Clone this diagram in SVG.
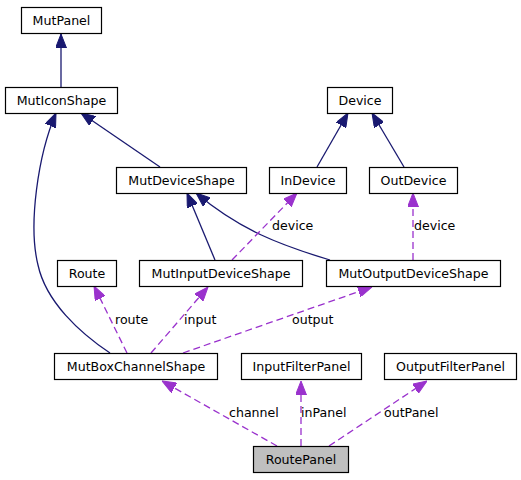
<svg xmlns="http://www.w3.org/2000/svg" width="521" height="480" viewBox="0 0 521 480">
<defs>
<marker id="inh" viewBox="0 0 14 11" refX="14" refY="5.5" markerWidth="14" markerHeight="11" markerUnits="userSpaceOnUse" orient="auto">
<path d="M0,0 L14,5.5 L0,11 z" fill="#191970" stroke="#191970" stroke-width="1"/>
</marker>
<marker id="use" viewBox="0 0 14 11" refX="14" refY="5.5" markerWidth="14" markerHeight="11" markerUnits="userSpaceOnUse" orient="auto">
<path d="M0,0 L14,5.5 L0,11 z" fill="#9a32cd" stroke="#9a32cd" stroke-width="1"/>
</marker>
</defs>
<style>
.box{fill:#fff;stroke:#000;stroke-width:1.2}
.cur{fill:#bfbfbf}
.t{font-family:"DejaVu Sans",Verdana,sans-serif;font-size:12.6px;fill:#000;text-anchor:middle}
.l{font-family:"DejaVu Sans",Verdana,sans-serif;font-size:12.6px;fill:#000}
.inh{fill:none;stroke:#191970;stroke-width:1.3;marker-end:url(#inh)}
.use{fill:none;stroke:#9a32cd;stroke-width:1.3;stroke-dasharray:7,4;marker-end:url(#use)}
</style>
<rect width="521" height="480" fill="#fff"/>
<g id="edges">
<path class="inh" d="M61,87 L61,34"/>
<path class="inh" d="M160,167 L81,113"/>
<path class="inh" d="M110,353 C80,333 46,302 38,265 C28,225 38,155 56,113"/>
<path class="inh" d="M317,167 L348,113"/>
<path class="inh" d="M404,167 L372,113"/>
<path class="inh" d="M215,260 L187,193"/>
<path class="inh" d="M330,260 C280,245 240,230 196,193"/>
<path class="use" d="M232,260 L297,193"/>
<path class="use" d="M413,260 L413,193"/>
<path class="use" d="M127,353 L94,286"/>
<path class="use" d="M151,353 L208,287"/>
<path class="use" d="M183,353 L372,287"/>
<path class="use" d="M277,446 L162,381"/>
<path class="use" d="M301,446 L301,381"/>
<path class="use" d="M329,446 L427,381"/>
<text class="l" x="272" y="230">device</text>
<text class="l" x="414" y="230">device</text>
<text class="l" x="115" y="324">route</text>
<text class="l" x="184" y="324">input</text>
<text class="l" x="292" y="324">output</text>
<text class="l" x="229" y="417">channel</text>
<text class="l" x="301" y="417">inPanel</text>
<text class="l" x="384" y="417">outPanel</text>
</g>
<g id="MutPanel"><rect class="box" x="21.5" y="7.5" width="80" height="26"/><text class="t" x="61.5" y="25">MutPanel</text></g>
<g id="MutIconShape"><rect class="box" x="5.5" y="87.5" width="112" height="26"/><text class="t" x="61.5" y="105">MutIconShape</text></g>
<g id="MutDeviceShape"><rect class="box" x="116.5" y="167.5" width="130" height="26"/><text class="t" x="181.5" y="185">MutDeviceShape</text></g>
<g id="Device"><rect class="box" x="327.5" y="87.5" width="65" height="26"/><text class="t" x="360" y="105">Device</text></g>
<g id="InDevice"><rect class="box" x="269.5" y="167.5" width="77" height="26"/><text class="t" x="308" y="185">InDevice</text></g>
<g id="OutDevice"><rect class="box" x="369.5" y="167.5" width="88" height="26"/><text class="t" x="413.5" y="185">OutDevice</text></g>
<g id="Route"><rect class="box" x="57.5" y="260.5" width="59" height="26"/><text class="t" x="87" y="278">Route</text></g>
<g id="MutInputDeviceShape"><rect class="box" x="139.5" y="260.5" width="163" height="26"/><text class="t" x="221" y="278">MutInputDeviceShape</text></g>
<g id="MutOutputDeviceShape"><rect class="box" x="326.5" y="260.5" width="174" height="26"/><text class="t" x="413.5" y="278">MutOutputDeviceShape</text></g>
<g id="MutBoxChannelShape"><rect class="box" x="54.5" y="353.5" width="163" height="26"/><text class="t" x="136" y="371">MutBoxChannelShape</text></g>
<g id="InputFilterPanel"><rect class="box" x="241.5" y="353.5" width="120" height="26"/><text class="t" x="301.5" y="371">InputFilterPanel</text></g>
<g id="OutputFilterPanel"><rect class="box" x="384.5" y="353.5" width="132" height="26"/><text class="t" x="450.5" y="371">OutputFilterPanel</text></g>
<g id="RoutePanel"><rect class="box cur" x="253.5" y="446.5" width="95" height="26"/><text class="t" x="301" y="464">RoutePanel</text></g>
</svg>
